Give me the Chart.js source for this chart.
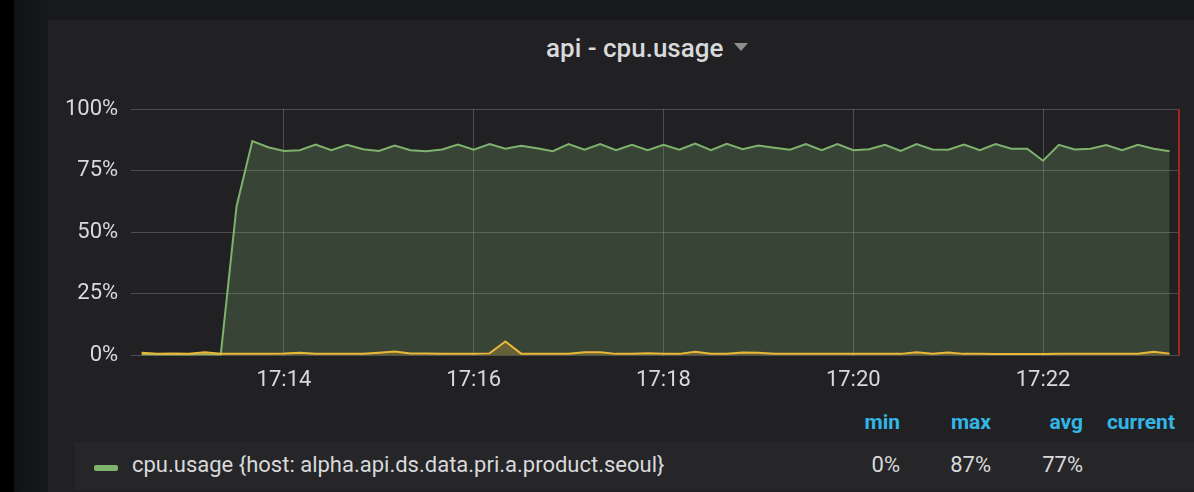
<!DOCTYPE html>
<html>
<head>
<meta charset="utf-8">
<script src="https://cdn.jsdelivr.net/npm/chart.js@4.4.1/dist/chart.umd.min.js"></script>
<style>
  html, body { margin: 0; padding: 0; }
  body { width: 1194px; height: 492px; overflow: hidden; background: #18191b; position: relative; font-family: Roboto, "Noto Sans", sans-serif; }
  #sidebar { position: absolute; left: 0; top: 0; width: 14px; height: 492px; background: #000; }
  #shade { position: absolute; left: 14px; top: 0; width: 34px; height: 492px; background: linear-gradient(to right, #111214, #17181a); }
  #panel { position: absolute; left: 48px; top: 20px; width: 1170px; height: 490px; background: #212124; border-radius: 3px; }
  #title { position: absolute; left: 546px; top: 30px; white-space: nowrap; color: #d8d9da; font-size: 26px; font-weight: 500; line-height: 36px; }
  #title .caret { display: inline-block; width: 0; height: 0; border-left: 7px solid transparent; border-right: 7px solid transparent; border-top: 8px solid #8e8e8e; margin-left: 11px; vertical-align: middle; position: relative; top: -3px; }
  #wrap { position: absolute; left: 48px; top: 80px; width: 1146px; height: 326px; }
  .hdr { position: absolute; top: 408px; color: #33b5e5; font-weight: 700; font-size: 21px; line-height: 28px; text-align: right; }
  #row { position: absolute; left: 75px; top: 442px; width: 1119px; height: 48px; background: #262629; }
  .swatch { position: absolute; left: 94px; top: 465px; width: 24px; height: 6px; background: #7eb26d; border-radius: 2px; }
  .ltxt { position: absolute; top: 450px; color: #d8d9da; font-size: 22px; line-height: 30px; white-space: nowrap; }
  .val { text-align: right; }
</style>
</head>
<body>
<div id="sidebar"></div>
<div id="shade"></div>
<div id="panel"></div>
<div id="title">api - cpu.usage<span class="caret"></span></div>
<div id="wrap"><canvas id="c"></canvas></div>
<div class="hdr" style="left:800px;width:100px;">min</div>
<div class="hdr" style="left:891px;width:100px;">max</div>
<div class="hdr" style="left:983px;width:100px;">avg</div>
<div class="hdr" style="left:1075px;width:100px;">current</div>
<div id="row"></div>
<div class="swatch"></div>
<div class="ltxt" id="lname" style="left:132px;"></div>
<div class="ltxt val" id="vmin" style="left:800px;width:100px;"></div>
<div class="ltxt val" id="vmax" style="left:891px;width:100px;"></div>
<div class="ltxt val" id="vavg" style="left:983px;width:100px;"></div>
<script>
// ---- data (seconds after 17:00:00, 10 s interval starting 17:12:30) ----
const startSec = 750;
const stepSec = 10;
const cpuHost = [0.4, 0.3, 0.4, 0.3, 0.5, 0.3, 60.5, 87, 84.5, 83, 83.3, 85.6, 83.3, 85.5, 83.7, 83, 85.2, 83.3, 82.9, 83.6, 85.6, 83.5, 85.8, 83.9, 85.1, 84.1, 82.9, 85.8, 83.5, 85.8, 83.3, 85.5, 83.3, 85.5, 83.5, 86, 83.3, 85.9, 83.7, 85.2, 84.3, 83.5, 85.8, 83.3, 85.8, 83.3, 83.7, 85.5, 83, 85.8, 83.6, 83.5, 85.6, 83.3, 85.8, 83.9, 83.9, 79, 85.5, 83.6, 83.9, 85.4, 83.3, 85.5, 83.9, 82.9];
const cpuOther = [1.2, 0.8, 0.9, 0.8, 1.4, 0.8, 0.7, 0.8, 0.8, 0.9, 1.2, 0.8, 0.8, 0.8, 0.8, 1.2, 1.7, 0.9, 0.9, 0.8, 0.7, 0.7, 0.9, 5.7, 0.8, 0.8, 0.8, 0.8, 1.4, 1.4, 0.7, 0.8, 1.0, 0.8, 0.7, 1.6, 0.8, 0.8, 1.3, 1.2, 0.8, 0.7, 0.7, 0.7, 0.7, 0.7, 0.7, 0.7, 0.7, 1.4, 0.8, 1.3, 0.7, 0.7, 0.6, 0.6, 0.6, 0.6, 0.8, 0.7, 0.7, 0.8, 0.7, 0.8, 1.6, 0.8];
const xTickSecs = [840, 960, 1080, 1200, 1320];
const yTickVals = [0, 25, 50, 75, 100];
const xMin = 743.4, xMax = 1406.6;
const seriesName = 'cpu.usage {host: alpha.api.ds.data.pri.a.product.seoul}';
const legendStats = { min: '0%', max: '87%', avg: '77%' };

document.getElementById('lname').textContent = seriesName;
document.getElementById('vmin').textContent = legendStats.min;
document.getElementById('vmax').textContent = legendStats.max;
document.getElementById('vavg').textContent = legendStats.avg;

const toPts = arr => arr.map((v, i) => ({ x: startSec + i * stepSec, y: v }));
const fmtTime = s => { const m = Math.floor(s / 60); return (17 + Math.floor(m / 60)) + ':' + String(m % 60).padStart(2, '0'); };

const edgeLine = {
  id: 'edgeLine',
  afterDatasetsDraw(chart) {
    const { ctx, chartArea, scales } = chart;
    const x = scales.x.getPixelForValue(xMax) - 1;
    ctx.save();
    ctx.strokeStyle = '#a3241c';
    ctx.lineWidth = 2;
    ctx.beginPath();
    ctx.moveTo(x, chartArea.top);
    ctx.lineTo(x, chartArea.bottom);
    ctx.stroke();
    ctx.restore();
  }
};

const gridCol = 'rgba(255,255,255,0.2)';
new Chart(document.getElementById('c'), {
  type: 'line',
  data: {
    datasets: [
      { label: 'other', data: toPts(cpuOther), borderColor: '#eab839', backgroundColor: 'rgba(234,184,57,0.25)', borderWidth: 2, pointRadius: 0, fill: 'origin', tension: 0 },
      { label: seriesName, data: toPts(cpuHost), borderColor: '#7eb26d', backgroundColor: 'rgba(126,178,109,0.25)', borderWidth: 2, pointRadius: 0, fill: 'origin', tension: 0 }
    ]
  },
  options: {
    responsive: true,
    maintainAspectRatio: false,
    animation: false,
    layout: { padding: { left: 4, right: 14, top: 29, bottom: 0 } },
    plugins: { legend: { display: false }, tooltip: { enabled: false } },
    scales: {
      x: {
        type: 'linear', min: xMin, max: xMax,
        afterBuildTicks: s => { s.ticks = xTickSecs.map(v => ({ value: v })); },
        ticks: { color: '#d8d9da', font: { family: 'Roboto', size: 22 }, padding: 12, maxRotation: 0, autoSkip: false, callback: v => fmtTime(v) },
        grid: { color: gridCol, drawTicks: false },
        border: { display: false }
      },
      y: {
        min: 0, max: 100,
        afterBuildTicks: s => { s.ticks = yTickVals.map(v => ({ value: v })); },
        ticks: { color: '#d8d9da', font: { family: 'Roboto', size: 22 }, padding: 13, callback: v => v + '%' },
        grid: { color: gridCol, drawTicks: false },
        border: { display: false }
      }
    }
  },
  plugins: [edgeLine]
});
</script>
</body>
</html>
